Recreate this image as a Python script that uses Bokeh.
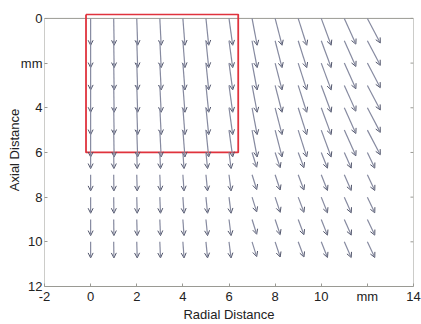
from bokeh.plotting import figure
from bokeh.models import (Range1d, LinearAxis, FixedTicker, ColumnDataSource,
                          Arrow, OpenHead)
from bokeh.embed import file_html
from bokeh.resources import INLINE

# ---- data ----
x_cols = [0, 1, 2, 3, 4, 5, 6, 7, 8, 9, 10, 11, 12]
rows_upper = [0, 1, 2, 3, 4, 5]
rows_lower = [6, 7, 8, 9, 10]
u_upper = [0.0, 0.02, 0.04, 0.06, 0.09, 0.12, 0.16, 0.22, 0.30, 0.37, 0.43, 0.50, 0.56]
v_upper = [1.2, 1.2, 1.2, 1.2, 1.2, 1.2, 1.2, 1.2, 1.2, 1.2, 1.2, 1.15, 1.1]
u_lower = [0.0, 0.01, 0.02, 0.03, 0.05, 0.07, 0.09, 0.20, 0.22, 0.25, 0.27, 0.30, 0.32]
v_lower = [0.72, 0.72, 0.72, 0.72, 0.72, 0.72, 0.72, 0.66, 0.68, 0.68, 0.7, 0.7, 0.7]
rect_x = [-0.2, 6.4]
rect_y = [-0.18, 6.0]
x_lim = [-2, 14]
y_lim = [0, 12]
x_ticks = [-2, 0, 2, 4, 6, 8, 10, 12, 14]
x_tick_labels = ["-2", "0", "2", "4", "6", "8", "10", "mm", "14"]
y_ticks = [0, 2, 4, 6, 8, 10, 12]
y_tick_labels = ["0", "mm", "4", "6", "8", "10", "12"]

x0, y0, x1, y1 = [], [], [], []
for rows, us, vs in ((rows_upper, u_upper, v_upper), (rows_lower, u_lower, v_lower)):
    for r in rows:
        for c, u, v in zip(x_cols, us, vs):
            x0.append(c); y0.append(r); x1.append(c + u); y1.append(r + v)
src = ColumnDataSource(dict(x0=x0, y0=y0, x1=x1, y1=y1))

FONT = "Liberation Sans"
AXC = "#9a9a94"
TXT = "#222222"

p = figure(width=421, height=324, output_backend="svg", toolbar_location=None,
           x_range=Range1d(x_lim[0], x_lim[1]), y_range=Range1d(y_lim[1], -0.22),
           x_axis_location=None, y_axis_location=None,
           min_border_left=44, min_border_right=8, min_border_top=13, min_border_bottom=35)
p.grid.visible = False
p.outline_line_color = None
p.background_fill_color = "white"
p.border_fill_color = "white"

def make_axis(ticks, labels, axis_label, show_line):
    ax = LinearAxis(ticker=FixedTicker(ticks=ticks))
    ax.major_label_overrides = {t: l for t, l in zip(ticks, labels)}
    ax.axis_line_color = AXC if show_line else None
    ax.major_tick_line_color = AXC
    ax.minor_tick_line_color = None
    ax.major_tick_in = 3
    ax.major_tick_out = 0
    ax.major_label_text_font = FONT
    ax.major_label_text_color = TXT
    ax.major_label_text_font_size = "13px"
    ax.major_label_standoff = 2
    ax.axis_label = axis_label
    ax.axis_label_text_font = FONT
    ax.axis_label_text_font_size = "13px"
    ax.axis_label_text_font_style = "normal"
    ax.axis_label_text_color = TXT
    return ax

xa = make_axis(x_ticks, x_tick_labels, "Radial Distance", True)
xa.axis_label_standoff = 0
ya = make_axis(y_ticks, y_tick_labels, "Axial Distance", False)
ya.axis_label_standoff = -4
p.add_layout(xa, "below")
p.add_layout(ya, "left")

# box lines (top, left, right) like the MATLAB axes box
p.line([x_lim[0], x_lim[1]], [y_lim[0], y_lim[0]], line_color=AXC, line_width=1)
p.line([x_lim[0], x_lim[0]], [y_lim[0], y_lim[1]], line_color=AXC, line_width=1)
p.line([x_lim[1], x_lim[1]], [y_lim[0], y_lim[1]], line_color=AXC, line_width=1)
# right side inward ticks
tick_len = 0.13
p.segment(x0=[x_lim[1] - tick_len] * len(y_ticks), y0=y_ticks,
          x1=[x_lim[1]] * len(y_ticks), y1=y_ticks, line_color=AXC, line_width=1)

p.add_layout(Arrow(end=OpenHead(size=5, line_color="#50546a", line_width=1),
                   x_start="x0", y_start="y0", x_end="x1", y_end="y1",
                   source=src, line_color="#868aa0", line_width=1.2))

p.line([rect_x[0], rect_x[1], rect_x[1], rect_x[0], rect_x[0]],
       [rect_y[0], rect_y[0], rect_y[1], rect_y[1], rect_y[0]],
       line_color="#e0333d", line_width=1.8)

open("out.html", "w").write(file_html(p, INLINE))
